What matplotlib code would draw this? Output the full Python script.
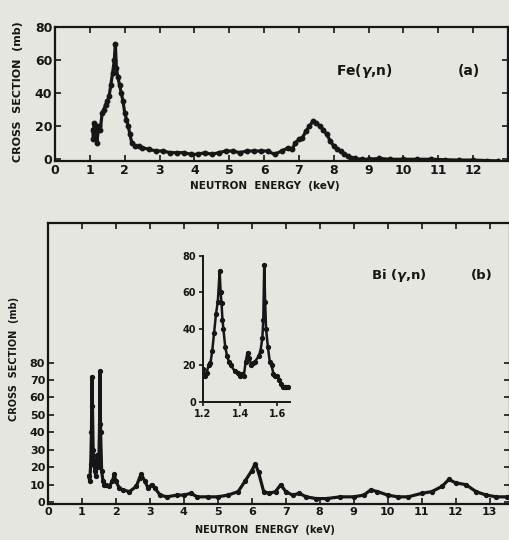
import matplotlib
matplotlib.use("Agg")
import matplotlib.pyplot as plt

# ---- data: Fe(gamma,n) ----
fe_energy = [1.08, 1.1, 1.12, 1.15, 1.18, 1.2, 1.25, 1.3, 1.35, 1.4, 1.45, 1.5, 1.55,
             1.6, 1.65, 1.7, 1.73, 1.76, 1.8, 1.85, 1.9, 1.95, 2.0, 2.05, 2.1, 2.15,
             2.2, 2.3, 2.4, 2.5, 2.7, 2.9, 3.1, 3.3, 3.5, 3.7, 3.9, 4.1, 4.3, 4.5,
             4.7, 4.9, 5.1, 5.3, 5.5, 5.7, 5.9, 6.1, 6.3, 6.5, 6.7, 6.8, 6.9, 7.0,
             7.1, 7.2, 7.3, 7.4, 7.5, 7.6, 7.7, 7.8, 7.9, 8.0, 8.1, 8.2, 8.3, 8.4,
             8.5, 8.6, 8.8, 9.0, 9.3, 9.6, 10.0, 10.4, 10.8, 11.2, 11.6, 12.0,
             12.4, 12.7]
fe_xs = [18, 12, 22, 15, 20, 10, 20, 18, 28, 30, 33, 35, 38,
         45, 52, 60, 70, 55, 50, 45, 40, 35, 28, 24, 20, 15,
         10, 8, 8, 7, 6, 5, 5, 4, 4, 4, 3, 3, 4, 3,
         4, 5, 5, 4, 5, 5, 5, 5, 3, 5, 7, 6, 10, 12,
         13, 17, 20, 23, 22, 20, 18, 15, 11, 8, 6, 5, 3, 2,
         1, 0.5, 0, 0, 0.5, 0, 0, 0, 0, -0.3, -0.5, -0.5,
         -0.8, -1]

# ---- data: Bi(gamma,n) ----
bi_energy = [1.2, 1.23, 1.26, 1.28, 1.3, 1.31, 1.33, 1.35, 1.38, 1.41, 1.43, 1.45,
             1.47, 1.5, 1.52, 1.53, 1.55, 1.58, 1.62, 1.66, 1.7, 1.8, 1.9, 1.95,
             2.0, 2.1, 2.2, 2.4, 2.6, 2.7, 2.75, 2.85, 2.95, 3.05, 3.15, 3.3,
             3.5, 3.8, 4.0, 4.2, 4.4, 4.7, 5.0, 5.3, 5.6, 5.8, 6.0, 6.1, 6.2,
             6.35, 6.5, 6.7, 6.85, 7.0, 7.2, 7.4, 7.6, 7.9, 8.2, 8.6, 9.0, 9.3,
             9.5, 9.7, 10.0, 10.3, 10.6, 11.0, 11.3, 11.6, 11.8, 12.0, 12.3,
             12.6, 12.9, 13.2, 13.5]
bi_xs = [15, 12, 22, 40, 72, 55, 30, 22, 18, 15, 20, 27,
         20, 25, 45, 75, 40, 18, 12, 10, 10, 9, 12, 16,
         12, 8, 7, 6, 9, 14, 16, 12, 8, 10, 8, 4,
         3, 4, 4, 5, 3, 3, 3, 4, 6, 12, 18, 22, 17,
         6, 5, 6, 10, 6, 4, 5, 3, 2, 2, 3, 3, 4,
         7, 6, 4, 3, 3, 5, 6, 9, 13, 11, 10,
         6, 4, 3, 3]

# ---- data: Bi inset ----
inset_energy = [1.2, 1.21, 1.22, 1.23, 1.24, 1.25, 1.26, 1.27, 1.28, 1.29, 1.295, 1.3,
                1.305, 1.31, 1.32, 1.33, 1.34, 1.35, 1.37, 1.39, 1.4, 1.41, 1.42,
                1.43, 1.44, 1.45, 1.46, 1.47, 1.48, 1.5, 1.51, 1.52, 1.525, 1.53,
                1.535, 1.54, 1.55, 1.56, 1.57, 1.58, 1.59, 1.6, 1.61, 1.62, 1.63,
                1.64, 1.65, 1.66]
inset_xs = [18, 14, 16, 20, 21, 28, 38, 48, 55, 72, 60, 54,
            45, 40, 30, 25, 22, 20, 17, 16, 14, 15, 14,
            22, 27, 24, 20, 21, 22, 25, 28, 35, 45, 75,
            55, 40, 30, 22, 20, 15, 14, 14, 12, 10, 8,
            8, 8, 8]

fe_xticks = list(range(0, 13))
bi_xticks = list(range(0, 14))
fe_yticks = [0, 20, 40, 60, 80]
bi_yticks = [0, 10, 20, 30, 40, 50, 60, 70, 80]
inset_xticks = [1.2, 1.4, 1.6]
inset_xticklabels = ["1.2", "1.4", "1.6"]
inset_yticks = [0, 20, 40, 60, 80]

bg = "#e6e6e1"
ink = "#161616"
plt.rcParams["font.family"] = ["DejaVu Sans"]
plt.rcParams["font.weight"] = "bold"

fig = plt.figure(figsize=(5.1, 5.4), dpi=100, facecolor=bg)

def style(ax, lw=1.6):
    ax.set_facecolor(bg)
    for s in ax.spines.values():
        s.set_linewidth(lw)
        s.set_color(ink)
    ax.tick_params(direction="in", length=4, width=1.2, colors=ink,
                   labelsize=9, pad=2)

# Panel (a)
axa = fig.add_axes([0.108, 0.702, 0.888, 0.248])
style(axa)
axa.plot(fe_energy, fe_xs, color=ink, lw=2.3, marker="o", ms=3.2)
axa.set_xlim(0, 13.0)
axa.set_ylim(-1, 80)
axa.set_xticks(fe_xticks)
axa.set_yticks(fe_yticks)
axa.tick_params(top=True, right=True)
for lab in axa.get_xticklabels() + axa.get_yticklabels():
    lab.set_fontweight("bold")
axa.text(0.62, 0.64, r"Fe($\gamma$,n)", transform=axa.transAxes, fontsize=10,
         fontweight="bold", color=ink)
axa.text(0.89, 0.64, "(a)", transform=axa.transAxes, fontsize=10,
         fontweight="bold", color=ink)
fig.text(0.52, 0.655, "NEUTRON  ENERGY  (keV)", ha="center", va="center",
         fontsize=7.5, fontweight="bold", color=ink)
fig.text(0.036, 0.83, "CROSS  SECTION  (mb)", ha="center", va="center",
         rotation=90, fontsize=8, fontweight="bold", color=ink)

# Panel (b)
axb = fig.add_axes([0.094, 0.067, 0.906, 0.52])
style(axb)
axb.plot(bi_energy, bi_xs, color=ink, lw=2.3, marker="o", ms=2.8)
axb.set_xlim(0, 13.6)
axb.set_ylim(-1, 160)
axb.set_xticks(bi_xticks)
axb.set_yticks(bi_yticks)
axb.tick_params(top=True, right=True, labelsize=8)
for lab in axb.get_xticklabels() + axb.get_yticklabels():
    lab.set_fontweight("bold")
axb.text(0.70, 0.80, r"Bi ($\gamma$,n)", transform=axb.transAxes, fontsize=9.5,
         fontweight="bold", color=ink)
axb.text(0.915, 0.80, "(b)", transform=axb.transAxes, fontsize=9.5,
         fontweight="bold", color=ink)
fig.text(0.52, 0.018, "NEUTRON  ENERGY  (keV)", ha="center", va="center",
         fontsize=7, fontweight="bold", color=ink)
fig.text(0.028, 0.335, "CROSS  SECTION  (mb)", ha="center", va="center",
         rotation=90, fontsize=7, fontweight="bold", color=ink)

# Inset
axi = fig.add_axes([0.398, 0.256, 0.171, 0.27])
style(axi, lw=1.4)
axi.spines["top"].set_visible(False)
axi.spines["right"].set_visible(False)
axi.plot(inset_energy, inset_xs, color=ink, lw=1.8, marker="o", ms=2.8)
axi.set_xlim(1.2, 1.67)
axi.set_ylim(0, 80)
axi.set_xticks(inset_xticks)
axi.set_xticklabels(inset_xticklabels)
axi.set_yticks(inset_yticks)
axi.tick_params(direction="out", length=3, labelsize=7)
for lab in axi.get_xticklabels() + axi.get_yticklabels():
    lab.set_fontweight("bold")

fig.savefig("out.png", dpi=100, facecolor=bg)
